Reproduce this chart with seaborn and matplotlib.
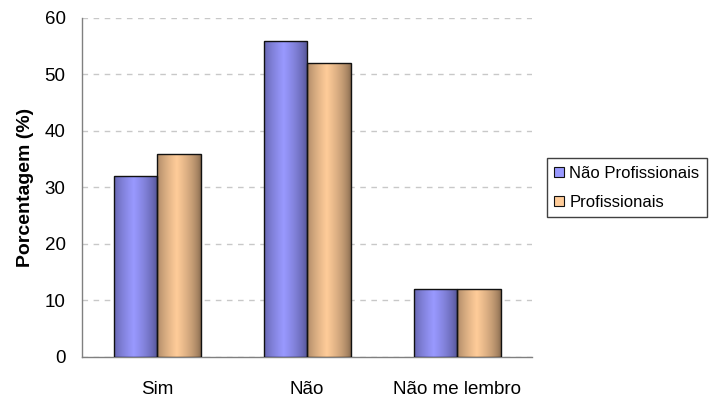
import numpy as np
import pandas as pd
import matplotlib
matplotlib.use("Agg")
import matplotlib.pyplot as plt
from matplotlib.patches import Patch
from matplotlib.colors import to_rgb
import seaborn as sns

categories = ["Sim", "Não", "Não me lembro"]
series_names = ["Não Profissionais", "Profissionais"]
nao_profissionais = [32, 56, 12]
profissionais = [36, 52, 12]
y_ticks = [0, 10, 20, 30, 40, 50, 60]

light_colors = {"Não Profissionais": "#9999ff", "Profissionais": "#ffcc99"}
dark_colors = {"Não Profissionais": "#4a4a85", "Profissionais": "#80644a"}

df = pd.DataFrame({
    "categoria": categories * 2,
    "grupo": [series_names[0]] * 3 + [series_names[1]] * 3,
    "valor": nao_profissionais + profissionais,
})

sns.set_style("white")
plt.rcParams["font.family"] = ["Liberation Sans", "DejaVu Sans"]
plt.rcParams["text.color"] = "black"
plt.rcParams["axes.labelcolor"] = "black"
plt.rcParams["xtick.labelcolor"] = "black"
plt.rcParams["ytick.labelcolor"] = "black"

fig = plt.figure(figsize=(7.09, 3.97), dpi=100)
ax = fig.add_axes([0.1157, 0.1008, 0.6347, 0.8539])

sns.barplot(data=df, x="categoria", y="valor", hue="grupo", hue_order=series_names,
            order=categories, palette=light_colors, width=0.58, ax=ax,
            legend=False, errorbar=None, saturation=1, zorder=3)


def gradient_image(light, dark, n=256):
    t = np.linspace(0, 1, n)
    f = 1 - np.clip(np.abs(t - 0.45) / 0.55, 0, 1)
    f = f ** 0.6
    lo = np.array(to_rgb(dark))
    hi = np.array(to_rgb(light))
    row = lo[None, :] + (hi - lo)[None, :] * f[:, None]
    return row[None, :, :]


# paint each bar with a horizontal shading, clipped to the bar outline
n_cat = len(categories)
for i, patch in enumerate(ax.patches):
    name = series_names[i // n_cat]
    x, y = patch.get_x(), patch.get_y()
    w, h = patch.get_width(), patch.get_height()
    img = gradient_image(light_colors[name], dark_colors[name])
    im = ax.imshow(img, extent=[x, x + w, y, y + h], aspect="auto",
                   zorder=3, interpolation="bilinear")
    im.set_clip_path(patch)
    patch.set_facecolor("none")
    patch.set_edgecolor("#111111")
    patch.set_linewidth(1.0)
    patch.set_zorder(4)

ax.set_xlim(-0.5, n_cat - 0.5)
ax.set_ylim(0, 60)
ax.set_yticks(y_ticks)
ax.set_yticklabels([str(v) for v in y_ticks], fontsize=13.5, color="black")
ax.set_xticks(range(n_cat))
ax.set_xticklabels(categories, fontsize=13.5, color="black")
ax.set_xticks(np.arange(-0.5, n_cat, 1.0), minor=True)
ax.tick_params(axis="x", which="major", length=0, pad=17)
ax.tick_params(axis="x", which="minor", length=4.3, width=1, color="#808080", direction="out")
ax.tick_params(axis="y", length=4.3, width=1, color="#808080", direction="out", pad=7.5)
ax.set_xlabel("")
ax.set_ylabel("Porcentagem (%)", fontsize=14, fontweight="bold", labelpad=8, color="black")

ax.yaxis.grid(True, linestyle=(0, (4, 4)), color="#c8c8c8", linewidth=1, zorder=0)
ax.set_axisbelow(True)
for side in ["top", "right"]:
    ax.spines[side].set_visible(False)
for side in ["left", "bottom"]:
    ax.spines[side].set_color("#808080")
    ax.spines[side].set_linewidth(1)

handles = [Patch(facecolor=light_colors[s], edgecolor="#111111", linewidth=0.8, label=s)
           for s in series_names]
leg = fig.legend(handles=handles, loc="upper left", bbox_to_anchor=(0.7715, 0.602),
                 fontsize=12, frameon=True, fancybox=False, handlelength=0.55,
                 handleheight=0.55, handletextpad=0.35, borderpad=0.45,
                 labelspacing=0.85, borderaxespad=0, labelcolor="black")
leg.get_frame().set_edgecolor("#111111")
leg.get_frame().set_linewidth(1)

fig.savefig("out.png", dpi=100)
